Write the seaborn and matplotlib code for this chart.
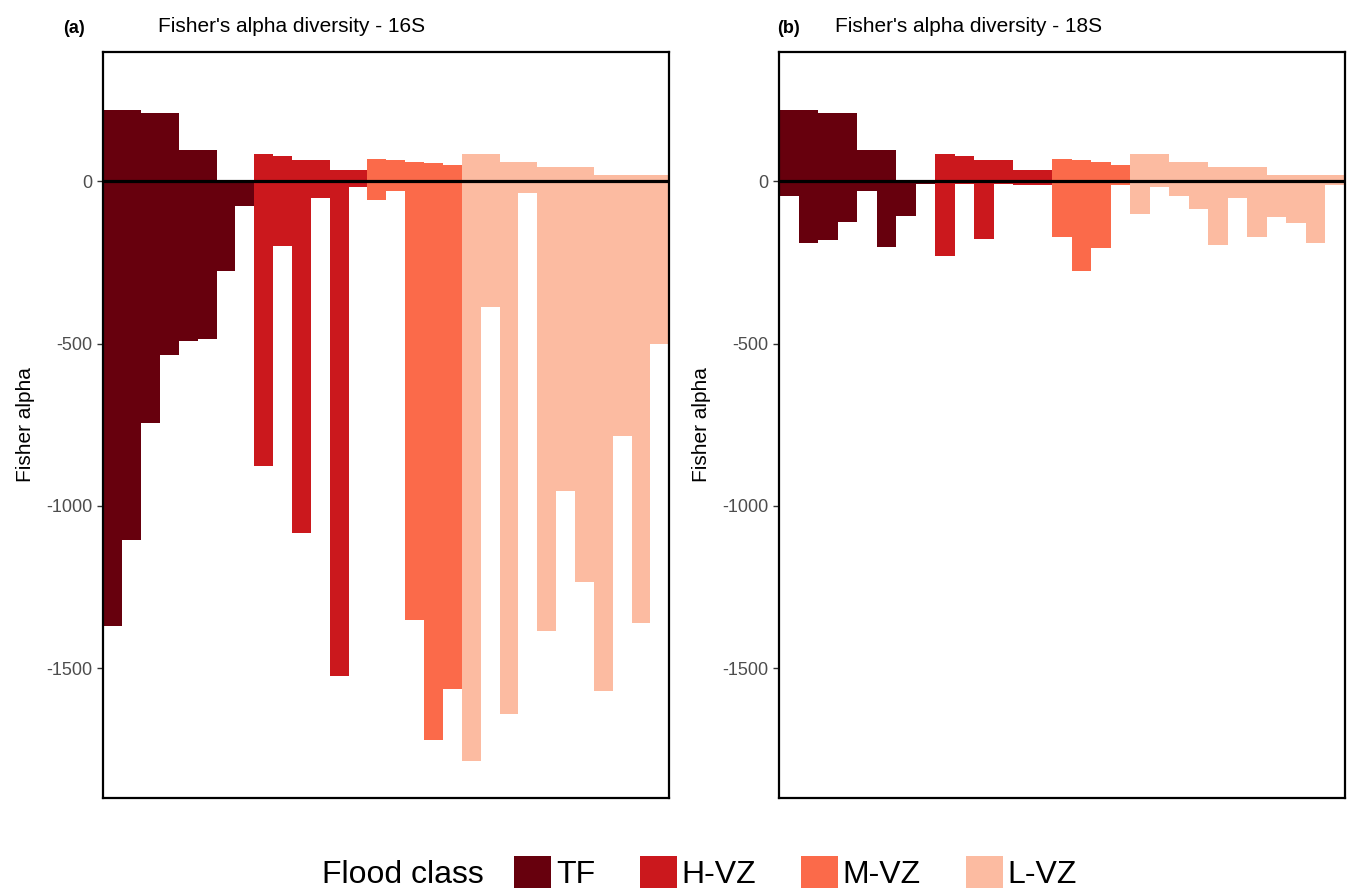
import matplotlib
matplotlib.use("Agg")
import matplotlib.pyplot as plt
from matplotlib.patches import Patch
import pandas as pd
import seaborn as sns

# flood classes and their colours (Reds)
classes = ["TF", "H-VZ", "M-VZ", "L-VZ"]
colors = ["#67000D", "#CB181D", "#FB6A4A", "#FCBBA1"]

# upper bars, one value per sample
upper_tf = [219, 219, 211, 211, 96, 96, 0, 0]
upper_hvz = [84, 79, 67, 67, 34, 34]
upper_mvz_16s = [69, 66, 59, 55, 49]
upper_mvz_18s = [69, 66, 59, 49]
upper_lvz = [83, 83, 60, 60, 45, 45, 45, 19, 19, 19, 19]

# lower bars - 16S
low16_tf = [-1370, -1105, -745, -536, -493, -486, -275, -76]
low16_hvz = [-877, -200, -1083, -52, -1524, -17]
low16_mvz = [-56, -31, -1353, -1721, -1564]
low16_lvz = [-1785, -388, -1641, -37, -1384, -954, -1235, -1569, -784, -1362, -500]

# lower bars - 18S
low18_tf = [-46, -190, -182, -126, -29, -202, -107, -8]
low18_hvz = [-229, -8, -178, -8, -10, -10]
low18_mvz = [-173, -277, -206, -10]
low18_lvz = [-100, -17, -46, -85, -196, -51, -170, -111, -129, -190, -12]

yticks = [-1500, -1000, -500, 0]


def panel_frame(upper, lower):
    rows = []
    for cls, ups, lows in zip(classes, upper, lower):
        for u, l in zip(ups, lows):
            rows.append((cls, u, l))
    df = pd.DataFrame(rows, columns=["flood_class", "upper", "lower"])
    df["sample"] = range(len(df))
    return df


df16 = panel_frame([upper_tf, upper_hvz, upper_mvz_16s, upper_lvz],
                   [low16_tf, low16_hvz, low16_mvz, low16_lvz])
df18 = panel_frame([upper_tf, upper_hvz, upper_mvz_18s, upper_lvz],
                   [low18_tf, low18_hvz, low18_mvz, low18_lvz])

sns.set_style("white")
plt.rcParams["font.family"] = ["Liberation Sans", "DejaVu Sans"]
plt.rcParams["text.color"] = "black"
plt.rcParams["axes.labelcolor"] = "black"

W, H = 1348, 890
fig = plt.figure(figsize=(W / 100, H / 100), dpi=100)
pal = dict(zip(classes, colors))

panels = [(df16, 103.3, 669.3, "(a)", 62.7, "Fisher's alpha diversity - 16S", 158.3),
          (df18, 779.3, 1345.0, "(b)", 776.7, "Fisher's alpha diversity - 18S", 835.0)]

for df, x0, x1, tag, tagx, title, titlex in panels:
    ax = fig.add_axes([x0 / W, (H - 798) / H, (x1 - x0) / W, (798 - 51.5) / H])
    for col in ["upper", "lower"]:
        sns.barplot(data=df, x="sample", y=col, hue="flood_class", hue_order=classes,
                    palette=pal, dodge=False, width=1.0, linewidth=0, saturation=1,
                    errorbar=None, legend=False, ax=ax)
    ax.axhline(0, color="black", lw=2.3, zorder=5)
    ax.set_xlim(-0.5, len(df) - 0.5)
    ax.set_ylim(-1900, 400)
    ax.set_xticks([])
    ax.set_xlabel("")
    ax.set_yticks(yticks)
    ax.set_yticklabels([str(t) for t in yticks])
    ax.set_ylabel("Fisher alpha", fontsize=15, labelpad=8, color="black")
    ax.tick_params(axis="y", labelsize=13, labelcolor="#4D4D4D", color="#333333",
                   length=4, width=1, pad=4, left=True)
    for s in ax.spines.values():
        s.set_color("black")
        s.set_linewidth(1.6)
    fig.text(tagx / W, 1 - 33 / H, tag, fontsize=13, fontweight="bold", va="baseline")
    fig.text(titlex / W, 1 - 32.5 / H, title, fontsize=15, va="baseline")

handles = [Patch(facecolor=c, edgecolor="none") for c in colors]
fig.text(322 / W, 1 - 883 / H, "Flood class", fontsize=23, va="baseline")
leg = fig.legend(handles, classes, loc="center left", bbox_to_anchor=(514 / W, 1 - 873 / H),
                 ncol=4, frameon=False, fontsize=23, handlelength=1.16, handleheight=1.16,
                 handletextpad=0.15, columnspacing=1.4, borderpad=0, borderaxespad=0)
for t in leg.get_texts():
    t.set_color("black")

fig.savefig("out.png", dpi=100)
